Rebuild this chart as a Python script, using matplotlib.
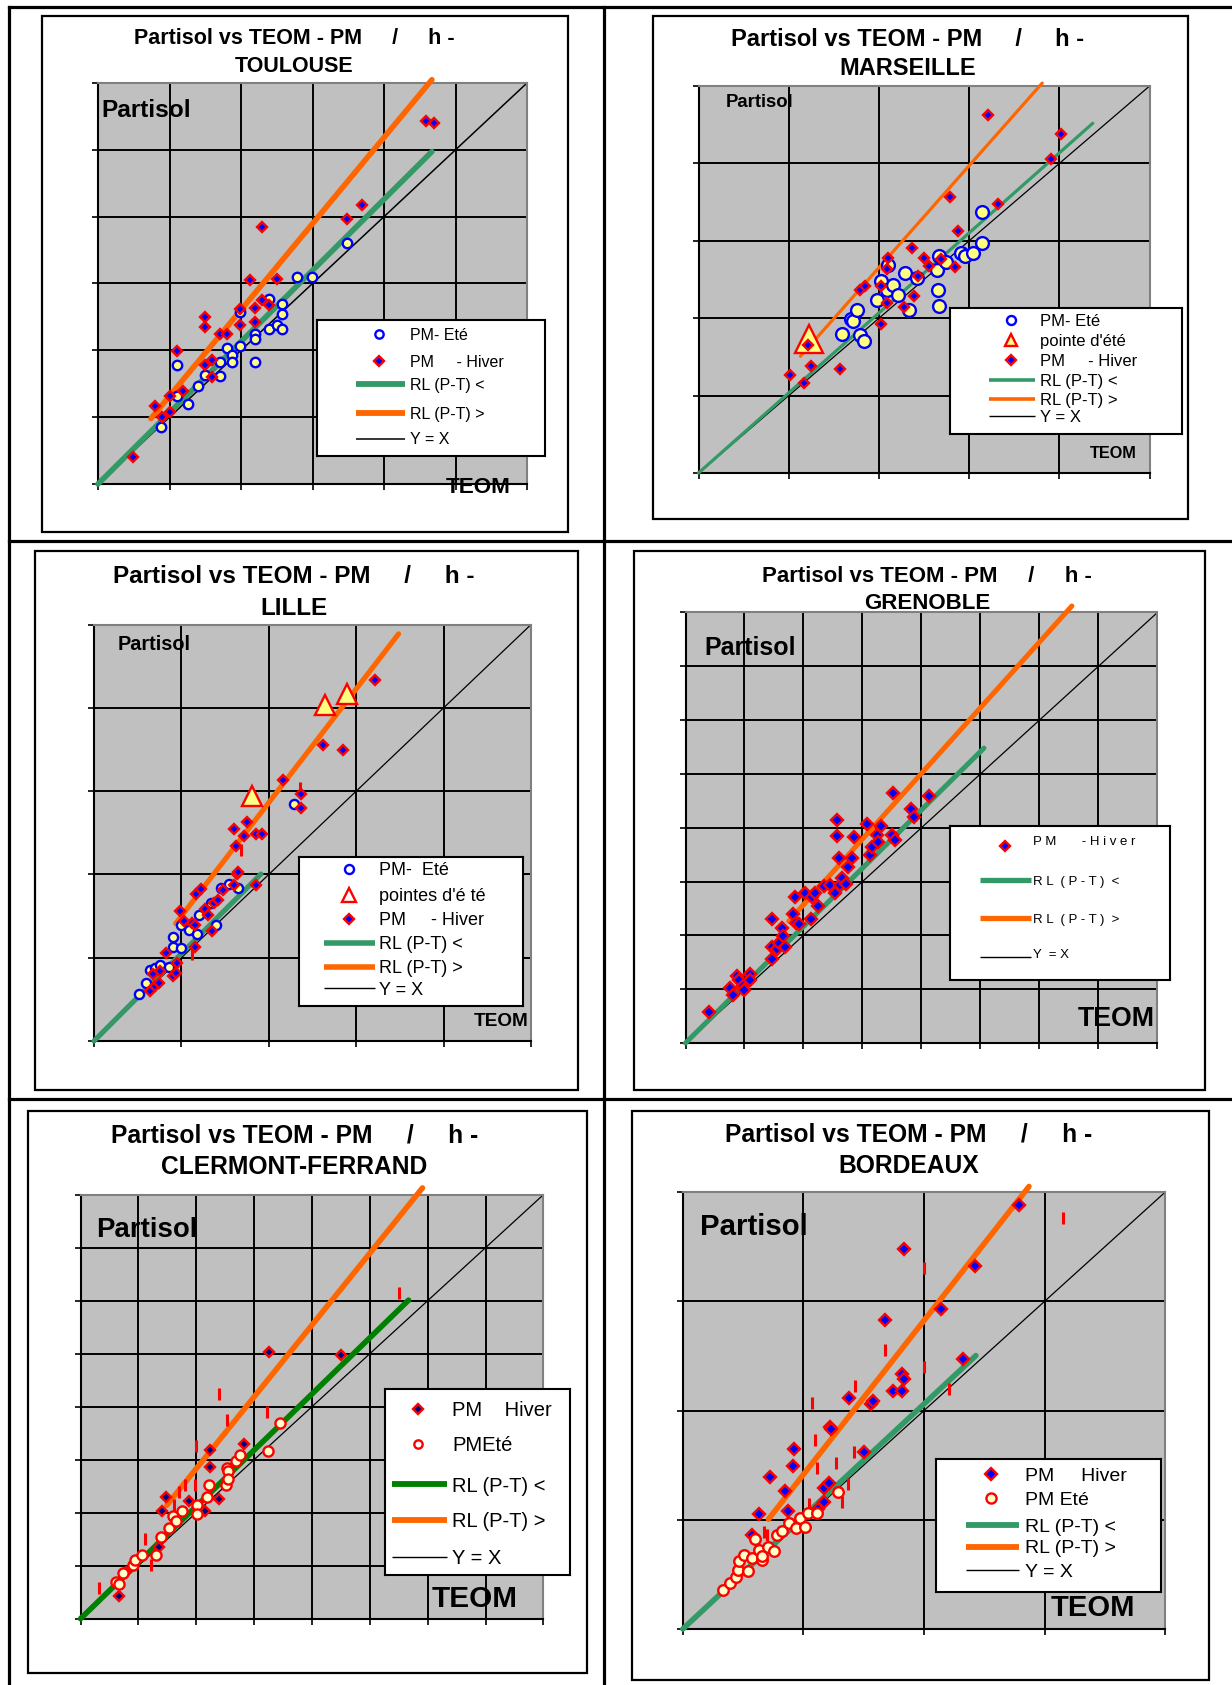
import matplotlib
matplotlib.use("Agg")
import matplotlib.pyplot as plt
from matplotlib.lines import Line2D
from matplotlib.patches import Rectangle
import numpy as np

plt.rcParams['font.family'] = ['Liberation Sans', 'DejaVu Sans']

W, H = 1232, 1685
STEP = 10  # one grid cell

# ------------------------------------------------------------------ data
# TOULOUSE
toulouse_hiver_teom = [4.9, 8.0, 9.0, 10.0, 10.0, 11.1, 11.9, 14.9, 14.9, 14.9, 15.9, 15.9, 17.0, 18.0,
                       19.9, 19.9, 21.2, 22.0, 22.0, 23.0, 23.0, 23.9, 25.1, 34.8, 36.9, 45.9, 47.0]
toulouse_hiver_partisol = [4.1, 11.6, 10.0, 13.2, 10.8, 19.9, 13.9, 25.0, 23.5, 17.8, 18.5, 16.0, 22.4, 22.4,
                           26.2, 23.8, 30.5, 26.4, 24.2, 38.4, 27.5, 26.8, 30.7, 39.7, 41.8, 54.3, 54.0]
toulouse_ete_teom = [8.8, 11.0, 11.0, 12.6, 14.0, 14.9, 17.0, 17.1, 18.0, 18.8, 18.8, 19.9, 19.9, 22.0,
                     22.0, 22.0, 23.9, 23.9, 25.0, 25.8, 25.8, 25.8, 27.9, 29.9, 34.8]
toulouse_ete_partisol = [8.5, 17.8, 13.2, 12.0, 14.6, 16.3, 16.2, 18.3, 20.4, 19.3, 18.3, 20.6, 25.8, 22.4,
                         21.7, 18.3, 23.2, 27.7, 23.8, 23.2, 25.4, 27.0, 30.9, 30.9, 36.0]
toulouse_rl_inf = (1.065, 0.0, 0.0, 46.7)     # slope, intercept, x start, x end
toulouse_rl_sup = (1.29, 0.25, 7.4, 46.7)

# MARSEILLE
marseille_hiver_teom = [10.1, 11.7, 12.1, 12.5, 15.7, 17.9, 18.4, 20.2, 20.2, 20.9, 20.9, 21.0, 22.8, 23.7,
                        23.9, 24.3, 25.0, 25.5, 26.9, 28.4, 27.9, 28.8, 32.1, 33.2, 39.1, 40.2]
marseille_hiver_partisol = [12.7, 11.6, 16.6, 13.8, 13.4, 23.6, 24.1, 19.3, 24.1, 21.9, 26.4, 27.8, 21.5, 29.1,
                            22.9, 25.5, 27.8, 26.8, 27.7, 26.6, 35.7, 31.3, 46.2, 34.7, 40.6, 43.8]
marseille_ete_teom = [15.9, 16.9, 17.1, 17.6, 17.9, 18.3, 19.8, 20.2, 20.9, 21.0, 21.6, 22.1, 22.9, 23.3,
                      24.2, 26.4, 26.5, 26.7, 26.7, 27.4, 29.1, 29.5, 30.4, 31.4, 31.4]
marseille_ete_partisol = [17.9, 19.9, 19.6, 21.1, 17.8, 17.1, 22.3, 24.8, 23.6, 26.9, 24.3, 23.0, 25.9, 21.0,
                          25.2, 26.2, 23.6, 28.1, 21.6, 27.2, 28.4, 28.1, 28.4, 33.7, 29.7]
marseille_pointe_teom = [12.3]
marseille_pointe_partisol = [17.3]
marseille_rl_inf = (1.034, 0.0, 0.0, 43.7)
marseille_rl_sup = (1.317, 0.2, 11.3, 38.1)

# LILLE
lille_hiver_teom = [6.4, 6.8, 7.0, 7.4, 7.6, 8.2, 9.0, 9.4, 9.5, 9.8, 10.3, 11.2, 11.5, 11.6, 11.7, 12.2,
                    12.7, 13.1, 13.5, 13.7, 14.2, 14.8, 16.0, 16.0, 16.2, 16.4, 16.5, 17.2, 17.5, 18.5,
                    18.5, 19.2, 21.6, 23.7, 23.7, 26.2, 28.5, 32.1]
lille_hiver_partisol = [6.0, 8.1, 6.6, 7.0, 8.4, 10.6, 7.8, 8.2, 9.4, 15.6, 14.4, 14.2, 11.3, 13.9, 17.6, 18.2,
                        15.8, 15.1, 13.2, 16.6, 16.9, 18.1, 18.7, 25.5, 23.4, 20.1, 20.3, 24.6, 26.3, 24.8,
                        18.7, 24.8, 31.4, 29.7, 28.0, 35.5, 34.9, 43.4]
lille_ete_teom = [5.1, 5.9, 6.4, 7.0, 7.6, 8.6, 9.0, 9.0, 9.9, 9.9, 10.9, 11.8, 12.0, 13.4, 14.0, 14.5,
                  15.4, 16.5, 22.9]
lille_ete_partisol = [5.7, 7.0, 8.5, 8.8, 9.1, 8.9, 11.3, 12.5, 11.2, 13.9, 13.3, 12.9, 15.1, 16.6, 13.9,
                      18.4, 18.8, 18.4, 28.5]
lille_pointes_teom = [18.1, 26.4, 29.0]
lille_pointes_partisol = [29.4, 40.4, 41.7]
lille_marks_teom = [16.8, 23.6, 11.2]
lille_marks_partisol = [22.9, 30.4, 10.4]
lille_rl_inf = (1.05, 0.0, 0.0, 19.1)
lille_rl_sup = (1.364, 1.35, 9.35, 34.85)

# GRENOBLE
grenoble_hiver_teom = [3.9, 7.5, 8.0, 8.7, 9.0, 9.7, 9.9, 10.9, 11.0, 14.7, 14.7, 14.7, 15.5, 15.9, 16.4,
                       16.5, 16.9, 18.3, 18.5, 18.7, 19.2, 20.3, 21.2, 21.5, 21.9, 22.4, 23.5, 24.5, 25.3,
                       25.6, 25.6, 26.0, 26.2, 26.5, 27.2, 27.5, 28.2, 28.5, 30.8, 31.2, 31.6, 32.5, 32.7,
                       33.2, 35.0, 35.2, 35.6, 38.2, 38.8, 41.2]
grenoble_hiver_partisol = [5.8, 10.2, 9.0, 12.4, 11.7, 10.5, 9.8, 12.8, 11.8, 23.1, 15.7, 17.8, 17.5, 18.6,
                           21.4, 19.9, 17.9, 23.9, 27.2, 22.3, 22.1, 27.9, 23.1, 27.2, 27.8, 25.4, 29.1, 29.4,
                           27.8, 41.4, 38.5, 34.4, 29.4, 30.7, 29.6, 32.7, 34.4, 38.2, 40.7, 34.9, 36.4, 38.7,
                           37.4, 40.4, 38.7, 46.5, 37.7, 43.4, 42.0, 45.9]
grenoble_rl_inf = (1.083, 0.0, 0.0, 50.6)
grenoble_rl_sup = (1.22, 1.3, 17.5, 65.5)

# CLERMONT-FERRAND
clermont_hiver_teom = [6.6, 7.8, 13.6, 14.1, 14.7, 18.7, 21.5, 22.3, 22.3, 24.0, 28.3, 32.6, 45.0]
clermont_hiver_partisol = [4.2, 8.8, 13.6, 20.4, 22.9, 22.3, 20.4, 31.9, 28.7, 22.5, 32.9, 50.3, 49.7]
clermont_ete_teom = [6.1, 6.6, 7.3, 9.0, 9.5, 10.7, 13.1, 13.9, 15.3, 16.0, 16.5, 17.5, 20.2, 20.2, 21.9,
                     22.2, 25.1, 25.3, 25.5, 25.5, 26.8, 27.5, 32.4, 34.4]
clermont_ete_partisol = [7.0, 6.5, 8.7, 10.1, 11.1, 12.1, 12.1, 15.4, 17.2, 19.3, 18.4, 20.4, 21.4, 19.7,
                         23.0, 25.2, 25.2, 28.5, 27.8, 26.3, 29.8, 30.8, 31.6, 37.0]
clermont_marks_teom = [3.2, 11.2, 12.2, 16.1, 17.1, 18.0, 19.8, 20.0, 24.0, 25.3, 32.3, 55.1]
clermont_marks_partisol = [5.7, 15.0, 10.1, 21.4, 23.9, 25.3, 25.3, 32.6, 42.4, 37.4, 39.0, 61.4]
clermont_rl_inf = (1.06, 0.0, 0.0, 56.7)
clermont_rl_sup = (1.355, 1.2, 14.9, 59.1)

# BORDEAUX
bordeaux_hiver_teom = [5.7, 6.3, 7.2, 8.5, 8.7, 9.1, 9.2, 11.2, 11.7, 11.7, 12.1, 12.2, 12.3, 13.8, 15.0,
                       15.6, 15.8, 16.8, 17.4, 18.2, 18.2, 18.3, 18.3, 21.4, 23.2, 24.2, 27.9]
bordeaux_hiver_partisol = [8.6, 10.5, 13.9, 12.6, 10.8, 14.9, 16.5, 11.0, 11.6, 12.9, 13.4, 18.5, 18.3, 21.1,
                           16.2, 20.6, 20.9, 28.3, 21.8, 21.8, 23.3, 22.9, 34.8, 29.3, 24.7, 33.2, 38.8]
bordeaux_ete_teom = [3.3, 3.9, 4.4, 4.6, 4.7, 5.1, 5.4, 5.7, 6.0, 6.3, 6.6, 6.6, 7.1, 7.6, 7.8, 8.2, 8.8,
                     9.4, 9.7, 10.1, 10.4, 11.1, 12.9]
bordeaux_ete_partisol = [3.6, 4.2, 4.8, 5.4, 6.2, 6.8, 5.3, 6.5, 8.2, 7.2, 6.3, 6.7, 7.5, 7.1, 8.6, 9.0, 9.7,
                         9.2, 10.2, 9.3, 10.6, 10.6, 12.5]
bordeaux_marks_teom = [31.5, 20.0, 16.8, 20.0, 22.1, 14.3, 10.7, 11.0, 11.1, 12.7, 14.2, 13.7, 13.2, 10.5,
                       6.7, 7.0]
bordeaux_marks_partisol = [37.6, 33.0, 25.5, 24.0, 22.0, 22.2, 20.7, 17.3, 14.7, 15.2, 16.2, 13.3, 11.6,
                           11.4, 8.9, 8.6]
bordeaux_rl_inf = (1.03, 0.0, 0.0, 24.3)
bordeaux_rl_sup = (1.41, 0.04, 7.1, 28.7)

# ------------------------------------------------------------------ styles
BG = '#c0c0c0'
GREEN = '#339966'
DKGREEN = '#008000'
ORANGE = '#ff6600'
BLUE = '#0000ff'
RED = '#ff0000'
YEL = '#ffff80'


def hiver_style(ms, fc=BLUE):
    return dict(marker='D', ms=ms, mfc=fc, mec=RED, mew=1.7, ls='none')


def ete_style(ms, ec=BLUE, fc=YEL, mew=1.7):
    return dict(marker='o', ms=ms, mfc=fc, mec=ec, mew=mew, ls='none')


def tri_style(ms, fc=YEL):
    return dict(marker='^', ms=ms, mfc=fc, mec=RED, mew=1.7, ls='none')


def mark_style(ms=8):
    return dict(marker='|', ms=ms, mec=RED, mew=2.2, ls='none')


fig = plt.figure(figsize=(W / 100, H / 100), dpi=100)
fig.patch.set_facecolor('white')


def fx(x):
    return x / W


def fy(y):
    return 1 - y / H


def frect(x0, y0, x1, y1):
    return [x0 / W, 1 - y1 / H, (x1 - x0) / W, (y1 - y0) / H]


def cap_text(x, y, s, size, ha='left', weight='bold'):
    # y = pixel position of the cap-height centre
    base = y + 0.358 * size * 100 / 72
    fig.text(fx(x), fy(base), s, ha=ha, va='baseline', fontsize=size, fontweight=weight)


# table lines
TLW = 2.3
for x in (8.5, 604):
    fig.add_artist(Line2D([fx(x), fx(x)], [fy(7), fy(H + 5)], color='black', lw=TLW,
                          transform=fig.transFigure))
for y in (7, 541, 1099):
    fig.add_artist(Line2D([fx(8.5), fx(W + 5)], [fy(y), fy(y)], color='black', lw=TLW,
                          transform=fig.transFigure))


def draw_panel(p):
    x0, y0, x1, y1 = p['frame']
    fig.add_artist(Rectangle((fx(x0), fy(y1)), (x1 - x0) / W, (y1 - y0) / H,
                             transform=fig.transFigure, fill=False, ec='black', lw=1.6))
    ax = fig.add_axes(frect(*p['plot']))
    lim = p['n'] * STEP
    ax.set_xlim(0, lim)
    ax.set_ylim(0, lim)
    ax.set_facecolor(BG)
    ticks = np.arange(0, lim + STEP / 2, STEP)
    ax.set_xticks(ticks)
    ax.set_yticks(ticks)
    ax.tick_params(labelbottom=False, labelleft=False, length=4.3, width=1.2,
                   color='black', direction='out')
    ax.grid(True, color='black', lw=1.4)
    ax.set_axisbelow(True)
    for s in ('left', 'bottom'):
        ax.spines[s].set_color('black')
        ax.spines[s].set_linewidth(1.5)
    for s in ('top', 'right'):
        ax.spines[s].set_color('#808080')
        ax.spines[s].set_linewidth(1.5)
    ax.plot([0, lim], [0, lim], color='black', lw=p['yx_lw'], zorder=2)
    for (slope, icpt, xa, xb), color in ((p['rl_inf'], p['green']), (p['rl_sup'], ORANGE)):
        xs = np.array([xa, xb])
        ax.plot(xs, slope * xs + icpt, color=color, lw=p['rl_lw'], solid_capstyle='round',
                clip_on=False, zorder=3)
    for xs, ys, style in p['series']:
        ax.plot(xs, ys, zorder=4, clip_on=False, **style)

    # titles
    cx, ty1, ty2, tfs = p['title_pos']
    cap_text(cx, ty1, p['title1'], tfs, ha='center')
    cap_text(cx, ty2, p['title2'], tfs, ha='center')
    px_, py_, pfs = p['partisol']
    cap_text(px_, py_, 'Partisol', pfs, ha='left')
    tx_, ty_, tefs = p['teom']
    cap_text(tx_, ty_, 'TEOM', tefs, ha='right')

    # legend box
    lx0, ly0, lx1, ly1 = p['legend_box']
    lax = fig.add_axes(frect(lx0, ly0, lx1, ly1))
    lax.set_zorder(5)
    lax.set_xlim(lx0, lx1)
    lax.set_ylim(ly1, ly0)
    lax.set_xticks([])
    lax.set_yticks([])
    lax.set_facecolor('white')
    for s in lax.spines.values():
        s.set_color('black')
        s.set_linewidth(1.5)
    mx, hx0, hx1, txx, lfs = p['legend_x']
    fs_px = lfs * 100 / 72
    for kind, style, y, label, ty in p['legend']:
        if kind == 'm':
            lax.plot([mx], [y], clip_on=False, **style)
        else:
            lax.plot([hx0, hx1], [y, y], solid_capstyle='butt', **style)
        lax.text(txx, ty + 0.358 * fs_px, label, ha='left', va='baseline', fontsize=lfs)


T1 = 'Partisol vs TEOM - PM     /     h -'

panels = [
    dict(  # TOULOUSE
        frame=(42, 16, 568, 532), plot=(98, 83, 527, 484), n=6,
        green=GREEN, rl_inf=toulouse_rl_inf, rl_sup=toulouse_rl_sup, rl_lw=4.0, yx_lw=1.1,
        series=[(toulouse_ete_teom, toulouse_ete_partisol, ete_style(6.8)),
                (toulouse_hiver_teom, toulouse_hiver_partisol, hiver_style(5.3))],
        title1=T1, title2='TOULOUSE', title_pos=(294, 36.5, 64, 15.5),
        partisol=(101, 108, 17.6), teom=(511, 484.5, 16.2),
        legend_box=(317, 320, 545, 456), legend_x=(379, 355.6, 404.7, 410, 11.5),
        legend=[('m', ete_style(6, fc='white'), 334.4, 'PM- Eté', 334.4),
                ('m', hiver_style(5.0), 361.5, 'PM     - Hiver', 361.5),
                ('l', dict(color=GREEN, lw=4.2), 384, 'RL (P-T) <', 384),
                ('l', dict(color=ORANGE, lw=4.2), 413, 'RL (P-T) >', 413),
                ('l', dict(color='black', lw=1.1), 438.7, 'Y = X', 438.7)]),
    dict(  # MARSEILLE
        frame=(653, 16, 1188, 519), plot=(698.5, 86, 1149.6, 473), n=5,
        green=GREEN, rl_inf=marseille_rl_inf, rl_sup=marseille_rl_sup, rl_lw=2.3, yx_lw=0.9,
        series=[(marseille_pointe_teom, marseille_pointe_partisol, tri_style(20)),
                (marseille_ete_teom, marseille_ete_partisol, ete_style(9.2)),
                (marseille_hiver_teom, marseille_hiver_partisol, hiver_style(5.0))],
        title1=T1, title2='MARSEILLE', title_pos=(908, 37.7, 67, 17),
        partisol=(726, 100, 13.3), teom=(1137, 452.5, 11.7),
        legend_box=(950, 308, 1182, 434.5), legend_x=(1011, 988.5, 1034.5, 1039.6, 12),
        legend=[('m', ete_style(6.5, fc='white'), 320.5, 'PM- Eté', 320.5),
                ('m', tri_style(8.5), 340, "pointe d'été", 340),
                ('m', hiver_style(5.0), 359.8, 'PM     - Hiver', 359.8),
                ('l', dict(color=GREEN, lw=2.6), 379.6, 'RL (P-T) <', 379.6),
                ('l', dict(color=ORANGE, lw=2.6), 399, 'RL (P-T) >', 399),
                ('l', dict(color='black', lw=1.0), 416.4, 'Y = X', 416.4)]),
    dict(  # LILLE
        frame=(35, 551, 578, 1090), plot=(94, 624.6, 531, 1041), n=5,
        green=GREEN, rl_inf=lille_rl_inf, rl_sup=lille_rl_sup, rl_lw=3.7, yx_lw=0.9,
        series=[(lille_ete_teom, lille_ete_partisol, ete_style(6.6)),
                (lille_marks_teom, lille_marks_partisol, mark_style(9)),
                (lille_hiver_teom, lille_hiver_partisol, hiver_style(5.3)),
                (lille_pointes_teom, lille_pointes_partisol, tri_style(15))],
        title1=T1, title2='LILLE', title_pos=(294, 574.3, 606, 17.5),
        partisol=(118, 642.5, 14.3), teom=(528.5, 1019.6, 13.7),
        legend_box=(299, 857, 523, 1006), legend_x=(348.5, 324, 375, 379, 13),
        legend=[('m', ete_style(6.5, fc='white'), 869, 'PM-  Eté', 869),
                ('m', tri_style(9.5, fc='white'), 894.6, "pointes d'é té", 894.6),
                ('m', hiver_style(5.0), 918.6, 'PM     - Hiver', 918.6),
                ('l', dict(color=GREEN, lw=4.0), 942.9, 'RL (P-T) <', 942.9),
                ('l', dict(color=ORANGE, lw=4.0), 966.8, 'RL (P-T) >', 966.8),
                ('l', dict(color='black', lw=1.0), 988.2, 'Y = X', 988.2)]),
    dict(  # GRENOBLE
        frame=(634, 551, 1205, 1090), plot=(685.5, 612.5, 1157.4, 1043), n=8,
        green=GREEN, rl_inf=grenoble_rl_inf, rl_sup=grenoble_rl_sup, rl_lw=3.6, yx_lw=0.9,
        series=[(grenoble_hiver_teom, grenoble_hiver_partisol, hiver_style(5.8))],
        title1=T1, title2='GRENOBLE', title_pos=(927, 573.6, 600.7, 16),
        partisol=(704.4, 646, 18), teom=(1155, 1016, 19.3),
        legend_box=(950, 826, 1170, 980), legend_x=(1005, 980, 1031, 1033.3, 9.5),
        legend=[('m', hiver_style(5.6), 845.7, 'P M       - H i v e r', 840),
                ('l', dict(color=GREEN, lw=3.8), 880, 'R L  ( P - T )  <', 880),
                ('l', dict(color=ORANGE, lw=3.8), 918.3, 'R L  ( P - T )  >', 918.3),
                ('l', dict(color='black', lw=1.0), 956.7, 'Y  = X', 953)]),
    dict(  # CLERMONT-FERRAND
        frame=(28, 1111, 587, 1672.5), plot=(80.5, 1194.7, 543.4, 1618.7), n=8,
        green=DKGREEN, rl_inf=clermont_rl_inf, rl_sup=clermont_rl_sup, rl_lw=4.0, yx_lw=0.9,
        series=[(clermont_marks_teom, clermont_marks_partisol, mark_style(8.5)),
                (clermont_hiver_teom, clermont_hiver_partisol, hiver_style(5.3, fc='#000080')),
                (clermont_ete_teom, clermont_ete_partisol, ete_style(7.3, ec=RED, fc='#ffffcc'))],
        title1=T1, title2='CLERMONT-FERRAND', title_pos=(294.6, 1134, 1165.6, 17.7),
        partisol=(96.3, 1226.7, 19.9), teom=(518, 1596.5, 21.4),
        legend_box=(385, 1388.5, 570, 1574.7), legend_x=(417.7, 392, 447, 452, 14.5),
        legend=[('m', hiver_style(5.3, fc='#000080'), 1409, 'PM    Hiver', 1409),
                ('m', ete_style(6, ec=RED, fc='white'), 1444, 'PMEté', 1444),
                ('l', dict(color=DKGREEN, lw=4.2), 1484.4, 'RL (P-T) <', 1484.4),
                ('l', dict(color=ORANGE, lw=4.2), 1520, 'RL (P-T) >', 1520),
                ('l', dict(color='black', lw=1.0), 1557, 'Y = X', 1557)]),
    dict(  # BORDEAUX
        frame=(632.5, 1111, 1209, 1680), plot=(682.8, 1192, 1165.3, 1629), n=4,
        green=GREEN, rl_inf=bordeaux_rl_inf, rl_sup=bordeaux_rl_sup, rl_lw=4.0, yx_lw=0.9,
        series=[(bordeaux_marks_teom, bordeaux_marks_partisol, mark_style(8.5)),
                (bordeaux_hiver_teom, bordeaux_hiver_partisol, hiver_style(6.2)),
                (bordeaux_ete_teom, bordeaux_ete_partisol, ete_style(7.6, ec=RED, fc='#ffffcc'))],
        title1=T1, title2='BORDEAUX', title_pos=(908.7, 1132.6, 1164.6, 17.7),
        partisol=(700.5, 1224.8, 21.2), teom=(1134.7, 1606, 21),
        legend_box=(935.5, 1458.8, 1161.4, 1592.4), legend_x=(991, 965.7, 1018.7, 1024.6, 14),
        legend=[('m', hiver_style(5.8), 1474, 'PM     Hiver', 1474),
                ('m', ete_style(7.3, ec=RED, fc='#ffffcc'), 1498, 'PM Eté', 1498),
                ('l', dict(color=GREEN, lw=4.2), 1524.6, 'RL (P-T) <', 1524.6),
                ('l', dict(color=ORANGE, lw=4.2), 1546.5, 'RL (P-T) >', 1546.5),
                ('l', dict(color='black', lw=1.0), 1570, 'Y = X', 1570)]),
]

for p in panels:
    draw_panel(p)

fig.savefig('out.png', dpi=100, facecolor='white')
